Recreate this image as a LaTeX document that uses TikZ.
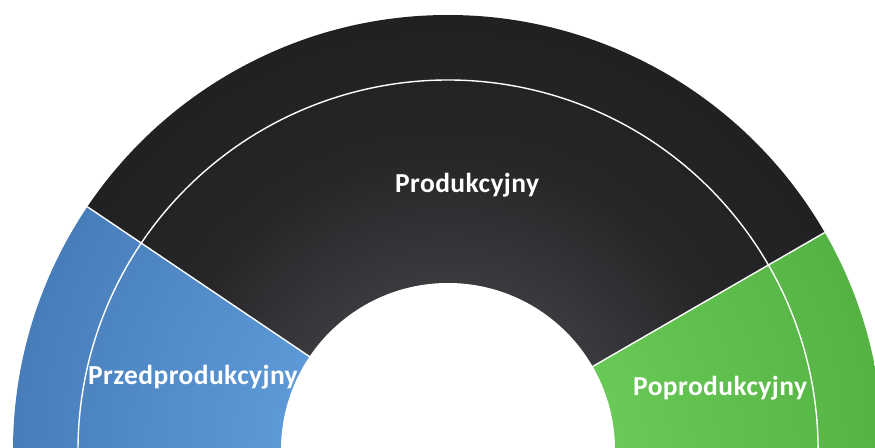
\documentclass[tikz,border=0pt]{standalone}
\usepackage{fontspec}
\setmainfont{Carlito}
\newfontfamily\partfont[LetterSpace=1.5]{Carlito}
\usetikzlibrary{calc}

% shadings for the three parts of the ring
\pgfdeclareradialshading{darkring}{\pgfpoint{0bp}{0bp}}{rgb(0bp)=(0.23,0.227,0.245); rgb(9.6bp)=(0.23,0.227,0.245); rgb(17bp)=(0.15,0.15,0.158); rgb(25bp)=(0.128,0.128,0.136); rgb(50bp)=(0.128,0.128,0.136)}
\pgfdeclareradialshading{bluering}{\pgfpoint{0bp}{0bp}}{rgb(0bp)=(0.36,0.6,0.84); rgb(9.6bp)=(0.36,0.6,0.84); rgb(25bp)=(0.28,0.49,0.73); rgb(50bp)=(0.28,0.49,0.73)}
\pgfdeclareradialshading{greenring}{\pgfpoint{0bp}{0bp}}{rgb(0bp)=(0.41,0.79,0.34); rgb(9.6bp)=(0.41,0.79,0.34); rgb(25bp)=(0.33,0.7,0.26); rgb(50bp)=(0.33,0.7,0.26)}

\newcommand{\ringpart}[3]{%
  \begin{scope}
    \clip (0,0) -- (#1:435) arc (#1:#2:435) -- cycle;
    \shade[shading=#3] (0,0) circle (435);
  \end{scope}}

\tikzset{
  sepline/.style={draw=white, line width=1.4pt},
  parttext/.style={text=white, inner sep=0pt, anchor=base west,
    font=\partfont\bfseries\fontsize{27.5}{30}\selectfont}
}

\begin{document}
\begin{tikzpicture}[x=1pt,y=1pt]
\useasboundingbox (-448,3) rectangle (427,450);
\clip (-448,3) rectangle (427,450);

% ring parts
\ringpart{146}{192}{bluering}
\ringpart{30}{146}{darkring}
\ringpart{-12}{30}{greenring}

% borders
\draw[sepline] (30:167) -- (30:435);
\draw[sepline] (146:167) -- (146:435);
\draw[sepline] (-12:370) arc (-12:192:370);

% text
\node[parttext] (prod) at (-53,257) {Produkcyjny};
\node[parttext] (przed) at (-360,65) {Przedprodukcyjny};
\node[parttext] (po) at (185,55) {Poprodukcyjny};

% hole
\fill[white] (0,0) circle (167);
\end{tikzpicture}
\end{document}
